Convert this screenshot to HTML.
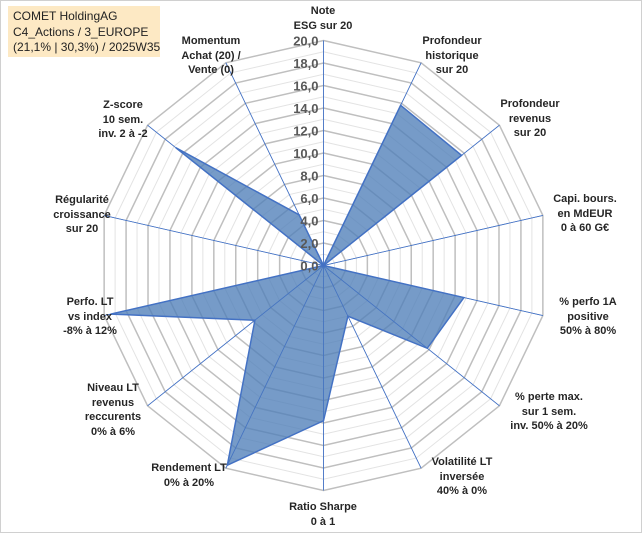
<!DOCTYPE html>
<html><head><meta charset="utf-8"><style>
html,body{margin:0;padding:0;background:#fff;}
#wrap{position:relative;width:642px;height:533px;overflow:hidden;font-family:"Liberation Sans",sans-serif;}
#frame{position:absolute;left:0;top:0;width:640px;height:531px;border:1px solid #d0d0d0;}
#title{position:absolute;left:8px;top:6px;width:152px;height:51px;background:#fde9c4;font-size:12px;color:#222;line-height:15.5px;padding:3px 0 0 5px;box-sizing:border-box;white-space:nowrap;}
.lbl{position:absolute;transform:translateX(-50%);text-align:center;font-size:11px;font-weight:bold;color:#262626;line-height:14.5px;white-space:nowrap;}
svg{position:absolute;left:0;top:0;}
</style></head><body>
<div id="wrap">
<div id="frame"></div>
<svg id="chart" width="642" height="533"></svg>
<div id="title">COMET HoldingAG<br>C4_Actions / 3_EUROPE<br>(21,1% | 30,3%) / 2025W35</div>
</div>
<script>
const categories=["Note<br>ESG sur 20","Profondeur<br>historique<br>sur 20","Profondeur<br>revenus<br>sur 20","Capi. bours.<br>en MdEUR<br>0 à 60 G€","% perfo 1A<br>positive<br>50% à 80%","% perte max.<br>sur 1 sem.<br>inv. 50% à 20%","Volatilité LT<br>inversée<br>40% à 0%","Ratio Sharpe<br>0 à 1","Rendement LT<br>0% à 20%","Niveau LT<br>revenus<br>reccurents<br>0% à 6%","Perfo. LT<br>vs index<br>-8% à 12%","Régularité<br>croissance<br>sur 20","Z-score<br>10 sem.<br>inv. 2 à -2","Momentum<br>Achat (20) /<br>Vente (0)"];
const values=[0,15.8,15.7,0,12.8,11.8,5,13.8,19.7,7.8,19.4,0,16.8,5];
const tickLabels=["0,0","2,0","4,0","6,0","8,0","10,0","12,0","14,0","16,0","18,0","20,0"];
const tickValues=[0,2,4,6,8,10,12,14,16,18,20];
const labelPos=[[323,4],[452,34],[530,97],[585,192],[588,295],[549,390],[462,455],[323,500],[189,461],[113,381],[90,295],[82,193],[123,98],[211,34]];
const cx=323.5,cy=265.5,R=225,maxV=20,N=categories.length;
const NS="http://www.w3.org/2000/svg";
const svg=document.getElementById('chart');
function ang(i){return -Math.PI/2+i*2*Math.PI/N;}
function pt(i,v){const a=ang(i),r=v/maxV*R;return [cx+r*Math.cos(a),cy+r*Math.sin(a)];}
function add(tag,attrs){const e=document.createElementNS(NS,tag);for(const k in attrs)e.setAttribute(k,attrs[k]);svg.appendChild(e);return e;}
for(let v=1;v<=maxV;v++){
  const p=[];for(let i=0;i<N;i++)p.push(pt(i,v).join(','));
  const g=add('polygon',{points:p.join(' '),fill:'none',stroke:v%2?'#e3e3e3':'#bfbfbf','stroke-width':v%2?1:1.5});
  
  
}
for(let i=0;i<N;i++){
  const e=pt(i,maxV);
  const l=add('line',{x1:cx,y1:cy,x2:e[0],y2:e[1],stroke:'#4472c4','stroke-width':0.8});
  
  
}
const sp=values.map((v,i)=>pt(i,v).join(',')).join(' ');
const poly=add('polygon',{points:sp,fill:'#4f7fb8','fill-opacity':0.78,stroke:'#4472c4','stroke-width':1.5});


for(let i=0;i<N;i++){
  const e=pt(i,maxV);
  const l=add('line',{x1:cx,y1:cy,x2:e[0],y2:e[1],stroke:'#4472c4','stroke-width':0.7,'stroke-opacity':0.8});
  
  
}
tickValues.forEach((v,k)=>{
  const t=add('text',{x:cx-5,y:cy-v/maxV*R+5,'text-anchor':'end','font-size':13,'font-weight':'bold',fill:'#595959','font-family':'Liberation Sans, sans-serif'});
  t.textContent=tickLabels[k];
  
  
});
const wrap=document.getElementById('wrap');
categories.forEach((c,i)=>{
  const d=document.createElement('div');
  d.className='lbl';
  d.style.left=labelPos[i][0]+'px';d.style.top=labelPos[i][1]+'px';
  d.innerHTML=c;
  
  
  wrap.appendChild(d);
});
</script>
</body></html>
